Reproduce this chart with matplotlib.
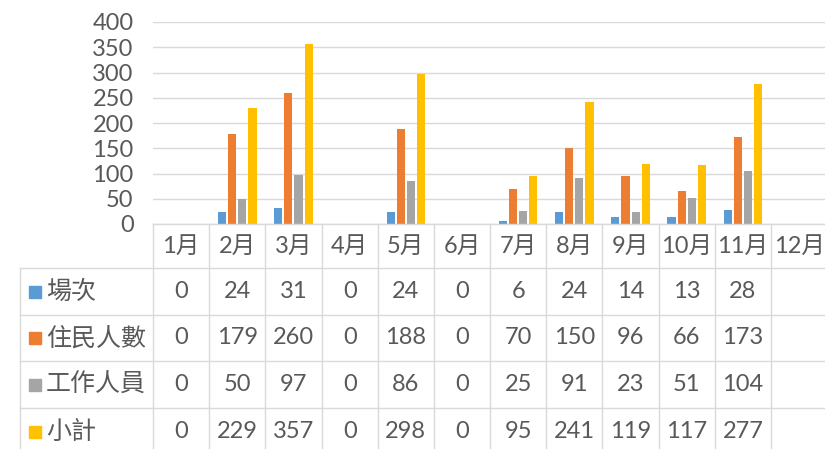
import matplotlib
matplotlib.use('Agg')
import matplotlib.pyplot as plt
import numpy as np

# data
months = ['1月', '2月', '3月', '4月', '5月', '6月', '7月', '8月', '9月', '10月', '11月', '12月']
series_names = ['場次', '住民人數', '工作人員', '小計']
sessions = [0, 24, 31, 0, 24, 0, 6, 24, 14, 13, 28]
residents = [0, 179, 260, 0, 188, 0, 70, 150, 96, 66, 173]
staff = [0, 50, 97, 0, 86, 0, 25, 91, 23, 51, 104]
subtotal = [0, 229, 357, 0, 298, 0, 95, 241, 119, 117, 277]
series = [sessions, residents, staff, subtotal]
colors = ['#5B9BD5', '#ED7D31', '#A5A5A5', '#FFC000']

plt.rcParams['font.family'] = ['Lato', 'Noto Sans CJK TC', 'DejaVu Sans']
txt_color = '#595959'
line_color = '#D9D9D9'
fs = 17

W, H = 825, 449
fig = plt.figure(figsize=(W / 100, H / 100), dpi=100)

x0 = 153          # left edge of plot area (px)
col_w = 56.18     # width of one month column (px)
top_tab = 224     # y of the zero line / table top (px from top)

# ---- bar chart ----
ax = fig.add_axes([x0 / W, 1 - top_tab / H, 12 * col_w / W, 202 / H])
bw, step = 0.145, 0.18
for i, (vals, c) in enumerate(zip(series, colors)):
    x = np.arange(len(vals)) + (i - 1.5) * step
    ax.bar(x, vals, width=bw, color=c, zorder=2)
ax.set_xlim(-0.5, 11.5)
ax.set_ylim(0, 400)
ax.set_yticks(range(0, 401, 50))
ax.set_xticks([])
ax.yaxis.grid(True, color=line_color, lw=1.0, zorder=0)
for s in ax.spines.values():
    s.set_visible(False)
ax.tick_params(axis='y', length=0, pad=14, labelsize=fs, labelcolor=txt_color)


# ---- data table ----
def col(px):
    return (px - x0) / col_w - 0.5


tab = fig.add_axes([0, 0, (x0 + 12 * col_w) / W, (H - top_tab) / H])
tab.set_xlim(col(0), 11.5)
tab.set_ylim(H - top_tab, 0)
tab.axis('off')

rows = [0, 44, 91, 137, 184, 231]
left = col(20)
lk = dict(color=line_color, lw=1.0, clip_on=False)
tab.plot([-0.5, 11.5], [rows[0], rows[0]], **lk)
for y in rows[1:]:
    tab.plot([left, 11.5], [y, y], **lk)
for k in range(13):
    xv = k - 0.5
    tab.plot([xv, xv], [0, rows[-1]], **lk)
tab.plot([left, left], [rows[1], rows[-1]], **lk)

for k, m in enumerate(months):
    tab.text(k, (rows[0] + rows[1]) / 2, m, ha='center', va='center',
             fontsize=fs, color=txt_color)

for r, (name, vals, c) in enumerate(zip(series_names, series, colors)):
    yc = (rows[r + 1] + rows[r + 2]) / 2
    tab.plot(col(35), yc, marker='s', markersize=8, color=c, clip_on=False)
    tab.text(col(46), yc, name, ha='left', va='center', fontsize=18,
             color=txt_color)
    for k, v in enumerate(vals):
        tab.text(k, yc, str(v), ha='center', va='center', fontsize=fs,
                 color=txt_color)

fig.savefig('out.png', dpi=100)
